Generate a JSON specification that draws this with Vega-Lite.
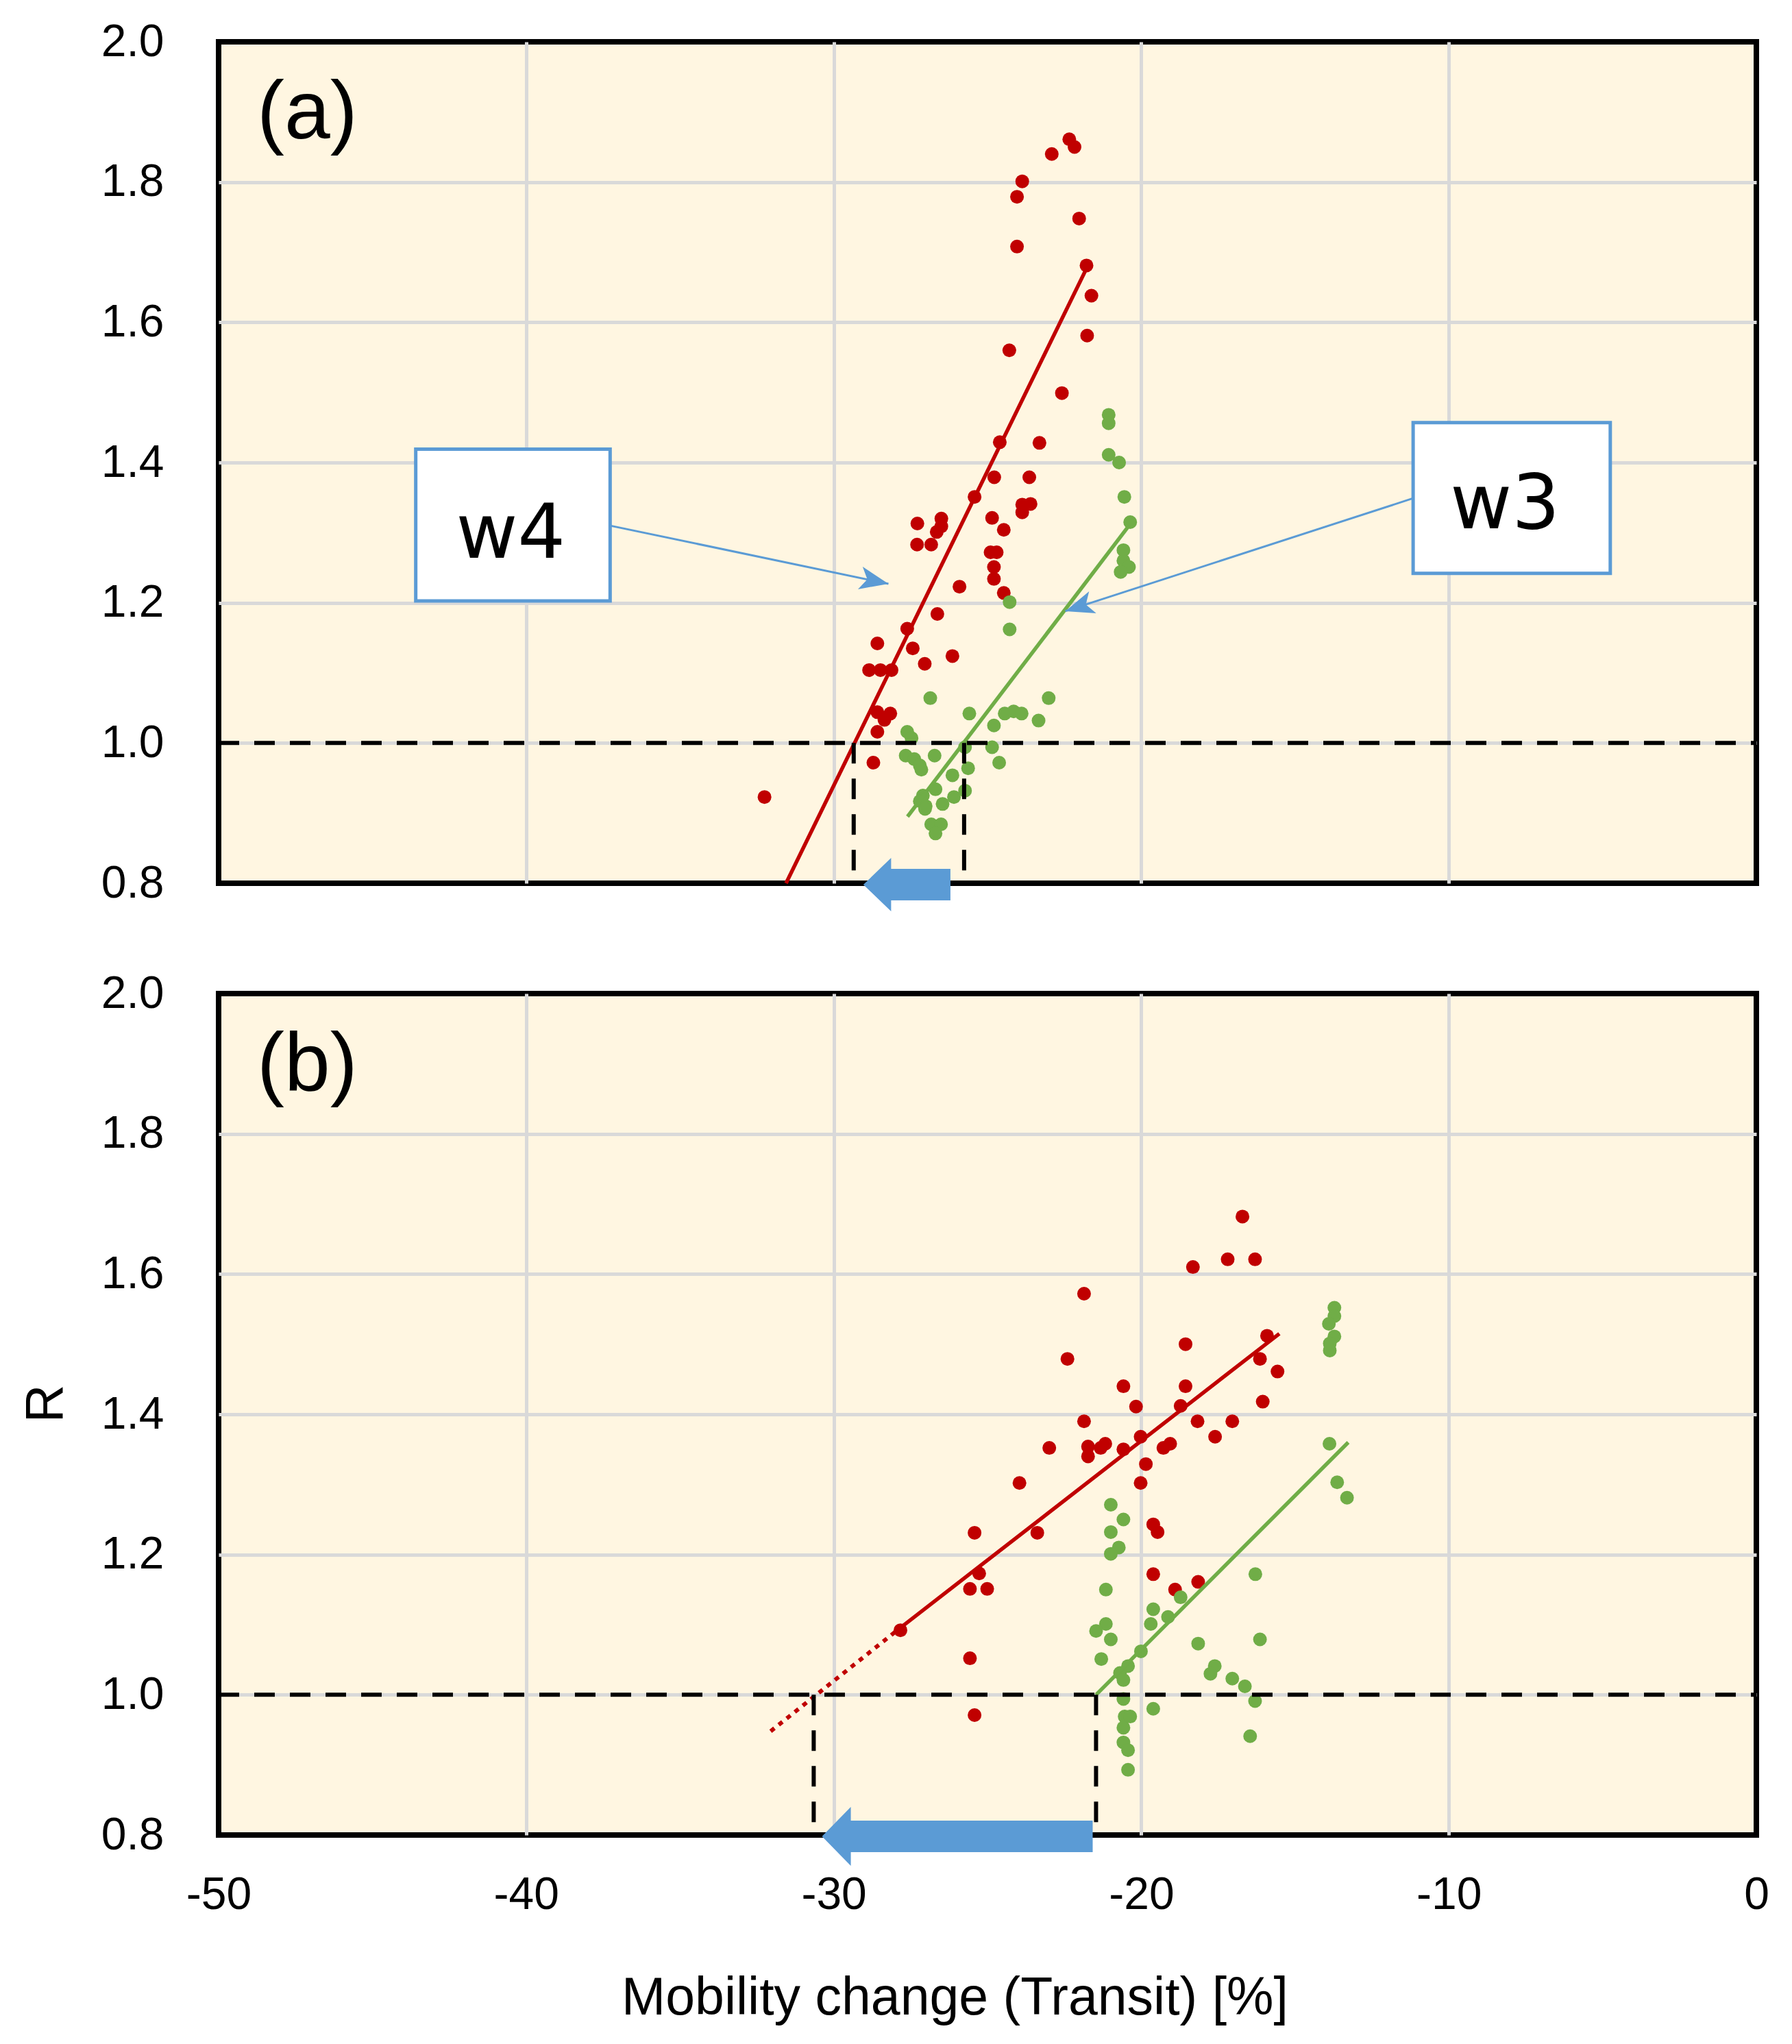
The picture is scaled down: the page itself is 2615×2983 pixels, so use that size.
{
  "$schema": "https://vega.github.io/schema/vega-lite/v6.json",
  "padding": {"left": 24, "top": 24, "right": 5, "bottom": 5},
  "background": "white",
  "config": {
    "view": {"fill": "#FFF6E1", "stroke": "#000000", "strokeWidth": 8},
    "axis": {
      "labelFont": "Liberation Sans", "labelFontSize": 66, "labelColor": "#000000",
      "titleFont": "Liberation Sans", "titleFontSize": 77, "titleFontWeight": "normal", "titleColor": "#000000",
      "gridColor": "#D9D9D9", "gridWidth": 5, "ticks": false, "tickSize": 0, "domain": false, "labelFlush": false
    }
  },
  "datasets": {
    "points": [
      {"panel":"a","series":"w4","x":-22.34,"y":1.861},{"panel":"a","series":"w4","x":-22.17,"y":1.85},{"panel":"a","series":"w4","x":-22.91,"y":1.84},{"panel":"a","series":"w4","x":-23.87,"y":1.801},{"panel":"a","series":"w4","x":-24.04,"y":1.779},{"panel":"a","series":"w4","x":-22.02,"y":1.748},{"panel":"a","series":"w4","x":-24.04,"y":1.708},{"panel":"a","series":"w4","x":-21.78,"y":1.681},{"panel":"a","series":"w4","x":-21.62,"y":1.638},{"panel":"a","series":"w4","x":-21.76,"y":1.581},{"panel":"a","series":"w4","x":-24.29,"y":1.56},{"panel":"a","series":"w4","x":-22.58,"y":1.499},{"panel":"a","series":"w4","x":-24.6,"y":1.429},{"panel":"a","series":"w4","x":-23.31,"y":1.428},{"panel":"a","series":"w4","x":-24.78,"y":1.379},{"panel":"a","series":"w4","x":-23.64,"y":1.379},{"panel":"a","series":"w4","x":-25.42,"y":1.351},{"panel":"a","series":"w4","x":-23.87,"y":1.34},{"panel":"a","series":"w4","x":-23.6,"y":1.341},{"panel":"a","series":"w4","x":-23.87,"y":1.329},{"panel":"a","series":"w4","x":-26.5,"y":1.32},{"panel":"a","series":"w4","x":-24.85,"y":1.321},{"panel":"a","series":"w4","x":-27.28,"y":1.313},{"panel":"a","series":"w4","x":-26.5,"y":1.309},{"panel":"a","series":"w4","x":-26.65,"y":1.301},{"panel":"a","series":"w4","x":-24.47,"y":1.304},{"panel":"a","series":"w4","x":-27.29,"y":1.283},{"panel":"a","series":"w4","x":-26.83,"y":1.283},{"panel":"a","series":"w4","x":-24.9,"y":1.272},{"panel":"a","series":"w4","x":-24.7,"y":1.272},{"panel":"a","series":"w4","x":-24.79,"y":1.251},{"panel":"a","series":"w4","x":-24.79,"y":1.234},{"panel":"a","series":"w4","x":-25.91,"y":1.223},{"panel":"a","series":"w4","x":-24.47,"y":1.214},{"panel":"a","series":"w4","x":-26.63,"y":1.184},{"panel":"a","series":"w4","x":-27.61,"y":1.163},{"panel":"a","series":"w4","x":-28.58,"y":1.142},{"panel":"a","series":"w4","x":-27.43,"y":1.135},{"panel":"a","series":"w4","x":-26.14,"y":1.124},{"panel":"a","series":"w4","x":-27.04,"y":1.113},{"panel":"a","series":"w4","x":-28.85,"y":1.104},{"panel":"a","series":"w4","x":-28.48,"y":1.104},{"panel":"a","series":"w4","x":-28.12,"y":1.104},{"panel":"a","series":"w4","x":-28.58,"y":1.044},{"panel":"a","series":"w4","x":-28.16,"y":1.042},{"panel":"a","series":"w4","x":-28.35,"y":1.033},{"panel":"a","series":"w4","x":-28.58,"y":1.016},{"panel":"a","series":"w4","x":-28.71,"y":0.972},{"panel":"a","series":"w4","x":-32.25,"y":0.923},
      {"panel":"a","series":"w3","x":-21.06,"y":1.468},{"panel":"a","series":"w3","x":-21.06,"y":1.456},{"panel":"a","series":"w3","x":-21.06,"y":1.411},{"panel":"a","series":"w3","x":-20.72,"y":1.4},{"panel":"a","series":"w3","x":-20.55,"y":1.351},{"panel":"a","series":"w3","x":-20.36,"y":1.315},{"panel":"a","series":"w3","x":-20.58,"y":1.275},{"panel":"a","series":"w3","x":-20.58,"y":1.26},{"panel":"a","series":"w3","x":-20.4,"y":1.251},{"panel":"a","series":"w3","x":-20.67,"y":1.244},{"panel":"a","series":"w3","x":-24.28,"y":1.201},{"panel":"a","series":"w3","x":-24.28,"y":1.162},{"panel":"a","series":"w3","x":-26.86,"y":1.064},{"panel":"a","series":"w3","x":-25.59,"y":1.042},{"panel":"a","series":"w3","x":-24.44,"y":1.042},{"panel":"a","series":"w3","x":-24.15,"y":1.045},{"panel":"a","series":"w3","x":-23.89,"y":1.042},{"panel":"a","series":"w3","x":-23.01,"y":1.064},{"panel":"a","series":"w3","x":-23.34,"y":1.032},{"panel":"a","series":"w3","x":-24.79,"y":1.025},{"panel":"a","series":"w3","x":-27.61,"y":1.016},{"panel":"a","series":"w3","x":-27.47,"y":1.007},{"panel":"a","series":"w3","x":-27.66,"y":0.982},{"panel":"a","series":"w3","x":-27.38,"y":0.977},{"panel":"a","series":"w3","x":-27.2,"y":0.968},{"panel":"a","series":"w3","x":-27.15,"y":0.962},{"panel":"a","series":"w3","x":-26.72,"y":0.982},{"panel":"a","series":"w3","x":-25.73,"y":0.994},{"panel":"a","series":"w3","x":-24.85,"y":0.994},{"panel":"a","series":"w3","x":-24.62,"y":0.972},{"panel":"a","series":"w3","x":-25.63,"y":0.964},{"panel":"a","series":"w3","x":-26.14,"y":0.954},{"panel":"a","series":"w3","x":-25.73,"y":0.932},{"panel":"a","series":"w3","x":-26.69,"y":0.934},{"panel":"a","series":"w3","x":-27.1,"y":0.925},{"panel":"a","series":"w3","x":-27.2,"y":0.917},{"panel":"a","series":"w3","x":-27.01,"y":0.91},{"panel":"a","series":"w3","x":-26.09,"y":0.923},{"panel":"a","series":"w3","x":-26.46,"y":0.913},{"panel":"a","series":"w3","x":-26.83,"y":0.884},{"panel":"a","series":"w3","x":-26.51,"y":0.884},{"panel":"a","series":"w3","x":-26.69,"y":0.871},{"panel":"a","series":"w3","x":-27.03,"y":0.906},
      {"panel":"b","series":"w4","x":-16.71,"y":1.682},{"panel":"b","series":"w4","x":-18.32,"y":1.61},{"panel":"b","series":"w4","x":-17.19,"y":1.621},{"panel":"b","series":"w4","x":-16.3,"y":1.621},{"panel":"b","series":"w4","x":-21.86,"y":1.572},{"panel":"b","series":"w4","x":-18.56,"y":1.5},{"panel":"b","series":"w4","x":-15.91,"y":1.512},{"panel":"b","series":"w4","x":-16.14,"y":1.479},{"panel":"b","series":"w4","x":-15.57,"y":1.461},{"panel":"b","series":"w4","x":-22.4,"y":1.479},{"panel":"b","series":"w4","x":-20.58,"y":1.44},{"panel":"b","series":"w4","x":-18.56,"y":1.44},{"panel":"b","series":"w4","x":-16.05,"y":1.418},{"panel":"b","series":"w4","x":-20.17,"y":1.411},{"panel":"b","series":"w4","x":-18.72,"y":1.412},{"panel":"b","series":"w4","x":-21.86,"y":1.39},{"panel":"b","series":"w4","x":-18.17,"y":1.39},{"panel":"b","series":"w4","x":-17.04,"y":1.39},{"panel":"b","series":"w4","x":-17.6,"y":1.368},{"panel":"b","series":"w4","x":-20.02,"y":1.368},{"panel":"b","series":"w4","x":-21.73,"y":1.354},{"panel":"b","series":"w4","x":-21.73,"y":1.34},{"panel":"b","series":"w4","x":-21.32,"y":1.352},{"panel":"b","series":"w4","x":-21.17,"y":1.358},{"panel":"b","series":"w4","x":-20.58,"y":1.35},{"panel":"b","series":"w4","x":-19.28,"y":1.352},{"panel":"b","series":"w4","x":-19.06,"y":1.358},{"panel":"b","series":"w4","x":-19.85,"y":1.329},{"panel":"b","series":"w4","x":-20.02,"y":1.302},{"panel":"b","series":"w4","x":-19.61,"y":1.243},{"panel":"b","series":"w4","x":-19.47,"y":1.232},{"panel":"b","series":"w4","x":-19.61,"y":1.172},{"panel":"b","series":"w4","x":-18.9,"y":1.15},{"panel":"b","series":"w4","x":-18.15,"y":1.161},{"panel":"b","series":"w4","x":-22.99,"y":1.352},{"panel":"b","series":"w4","x":-23.96,"y":1.302},{"panel":"b","series":"w4","x":-25.42,"y":1.231},{"panel":"b","series":"w4","x":-23.38,"y":1.231},{"panel":"b","series":"w4","x":-25.27,"y":1.173},{"panel":"b","series":"w4","x":-25.57,"y":1.151},{"panel":"b","series":"w4","x":-25.01,"y":1.151},{"panel":"b","series":"w4","x":-27.83,"y":1.092},{"panel":"b","series":"w4","x":-25.57,"y":1.052},{"panel":"b","series":"w4","x":-25.42,"y":0.971},
      {"panel":"b","series":"w3","x":-13.72,"y":1.552},{"panel":"b","series":"w3","x":-13.72,"y":1.54},{"panel":"b","series":"w3","x":-13.9,"y":1.529},{"panel":"b","series":"w3","x":-13.72,"y":1.511},{"panel":"b","series":"w3","x":-13.87,"y":1.501},{"panel":"b","series":"w3","x":-13.87,"y":1.491},{"panel":"b","series":"w3","x":-13.88,"y":1.358},{"panel":"b","series":"w3","x":-13.63,"y":1.303},{"panel":"b","series":"w3","x":-13.31,"y":1.281},{"panel":"b","series":"w3","x":-20.99,"y":1.271},{"panel":"b","series":"w3","x":-20.58,"y":1.25},{"panel":"b","series":"w3","x":-20.99,"y":1.232},{"panel":"b","series":"w3","x":-20.73,"y":1.21},{"panel":"b","series":"w3","x":-20.99,"y":1.201},{"panel":"b","series":"w3","x":-16.29,"y":1.172},{"panel":"b","series":"w3","x":-21.15,"y":1.15},{"panel":"b","series":"w3","x":-18.72,"y":1.139},{"panel":"b","series":"w3","x":-19.61,"y":1.122},{"panel":"b","series":"w3","x":-19.13,"y":1.111},{"panel":"b","series":"w3","x":-19.69,"y":1.101},{"panel":"b","series":"w3","x":-21.15,"y":1.101},{"panel":"b","series":"w3","x":-21.47,"y":1.091},{"panel":"b","series":"w3","x":-20.99,"y":1.079},{"panel":"b","series":"w3","x":-16.14,"y":1.079},{"panel":"b","series":"w3","x":-18.15,"y":1.073},{"panel":"b","series":"w3","x":-20.01,"y":1.062},{"panel":"b","series":"w3","x":-21.3,"y":1.051},{"panel":"b","series":"w3","x":-17.61,"y":1.041},{"panel":"b","series":"w3","x":-17.75,"y":1.03},{"panel":"b","series":"w3","x":-20.43,"y":1.041},{"panel":"b","series":"w3","x":-20.69,"y":1.031},{"panel":"b","series":"w3","x":-20.58,"y":1.021},{"panel":"b","series":"w3","x":-17.04,"y":1.023},{"panel":"b","series":"w3","x":-16.63,"y":1.012},{"panel":"b","series":"w3","x":-16.3,"y":0.991},{"panel":"b","series":"w3","x":-20.58,"y":0.994},{"panel":"b","series":"w3","x":-19.61,"y":0.98},{"panel":"b","series":"w3","x":-20.54,"y":0.969},{"panel":"b","series":"w3","x":-20.36,"y":0.969},{"panel":"b","series":"w3","x":-20.58,"y":0.953},{"panel":"b","series":"w3","x":-20.58,"y":0.932},{"panel":"b","series":"w3","x":-20.43,"y":0.921},{"panel":"b","series":"w3","x":-20.43,"y":0.893},{"panel":"b","series":"w3","x":-16.46,"y":0.941}
    ],
    "fits": [
      {"panel":"a","series":"w4","style":"solid","x":-31.55,"y":0.8,"x2":-21.8,"y2":1.675},
      {"panel":"a","series":"w3","style":"solid","x":-27.6,"y":0.895,"x2":-20.4,"y2":1.31},
      {"panel":"b","series":"w4","style":"solid","x":-27.79,"y":1.097,"x2":-15.51,"y2":1.515},
      {"panel":"b","series":"w4","style":"dotted","x":-32.05,"y":0.948,"x2":-27.79,"y2":1.097},
      {"panel":"b","series":"w3","style":"solid","x":-21.47,"y":1.0,"x2":-13.27,"y2":1.36}
    ],
    "refs": [
      {"panel":"a","x":-50,"y":1,"x2":0,"y2":1},
      {"panel":"a","x":-29.35,"y":1,"x2":-29.35,"y2":0.8},
      {"panel":"a","x":-25.76,"y":1,"x2":-25.76,"y2":0.8},
      {"panel":"b","x":-50,"y":1,"x2":0,"y2":1},
      {"panel":"b","x":-30.65,"y":1,"x2":-30.65,"y2":0.8},
      {"panel":"b","x":-21.47,"y":1,"x2":-21.47,"y2":0.8}
    ],
    "boxes": [
      {"label":"w4","x":-43.59,"x2":-37.27,"y":1.2025,"y2":1.419,"tx":-40.5,"ty":1.264},
      {"label":"w3","x":-11.16,"x2":-4.75,"y":1.242,"y2":1.457,"tx":-8.17,"ty":1.306}
    ],
    "pointers": [
      {"label":"w4","x":-37.27,"y":1.31,"x2":-28.22,"y2":1.227},
      {"label":"w3","x":-11.16,"y":1.349,"x2":-22.47,"y2":1.188}
    ],
    "shifts": [
      {"panel":"a","x":-27.62,"y":0.798},
      {"panel":"b","x":-25.98,"y":0.798}
    ],
    "panels": [
      {"panel":"a","label":"(a)","x":-48.75,"y":1.862},
      {"panel":"b","label":"(b)","x":-48.75,"y":1.862}
    ]
  },
  "spacing": 161,
  "bounds": "flush",
  "vconcat": [
    {
      "width": 2244,
      "height": 1228,
      "layer": [
        {
          "data": {"name": "points"},
          "transform": [{"filter": "datum.panel === 'a'"}],
          "mark": {"type": "circle", "size": 400, "opacity": 1},
          "encoding": {
            "x": {"field": "x", "type": "quantitative", "scale": {"domain": [-50, 0], "nice": false, "zero": false},
                  "axis": {"values": [-50, -40, -30, -20, -10, 0], "labels": false, "title": null, "grid": true,
                           "gridOpacity": {"condition": {"test": "datum.value <= -50 || datum.value >= 0", "value": 0}, "value": 1}}},
            "y": {"field": "y", "type": "quantitative", "scale": {"domain": [0.8, 2.0], "nice": false, "zero": false},
                  "axis": {"values": [0.8, 1, 1.2, 1.4, 1.6, 1.8, 2], "format": ".1f", "labelPadding": 80, "title": null, "grid": true,
                           "gridOpacity": {"condition": {"test": "datum.value < 0.85 || datum.value > 1.95", "value": 0}, "value": 1}}},
            "color": {"field": "series", "type": "nominal", "scale": {"domain": ["w4", "w3"], "range": ["#C00000", "#70AD47"]}, "legend": null}
          }
        },
        {
          "data": {"name": "fits"},
          "transform": [{"filter": "datum.panel === 'a' && datum.style === 'solid'"}],
          "mark": {"type": "rule", "strokeWidth": 5.5},
          "encoding": {
            "x": {"field": "x", "type": "quantitative"}, "y": {"field": "y", "type": "quantitative"},
            "x2": {"field": "x2"}, "y2": {"field": "y2"},
            "color": {"field": "series", "type": "nominal", "legend": null}
          }
        },
        {
          "data": {"name": "refs"},
          "transform": [{"filter": "datum.panel === 'a'"}],
          "mark": {"type": "rule", "color": "#000000", "strokeWidth": 6, "strokeDash": [30, 22]},
          "encoding": {
            "x": {"field": "x", "type": "quantitative"}, "y": {"field": "y", "type": "quantitative"},
            "x2": {"field": "x2"}, "y2": {"field": "y2"}
          }
        },
        {
          "data": {"name": "pointers"},
          "mark": {"type": "rule", "color": "#5B9BD5", "strokeWidth": 3},
          "encoding": {
            "x": {"field": "x", "type": "quantitative"}, "y": {"field": "y", "type": "quantitative"},
            "x2": {"field": "x2"}, "y2": {"field": "y2"}
          }
        },
        {
          "data": {"name": "pointers"},
          "transform": [{"filter": "datum.label === 'w4'"}],
          "mark": {"type": "point", "shape": "M0,0L-2,-0.8L-1.5,0L-2,0.8Z", "size": 1764, "angle": 11.8, "filled": true, "color": "#5B9BD5", "opacity": 1, "strokeWidth": 0},
          "encoding": {"x": {"field": "x2", "type": "quantitative"}, "y": {"field": "y2", "type": "quantitative"}}
        },
        {
          "data": {"name": "pointers"},
          "transform": [{"filter": "datum.label === 'w3'"}],
          "mark": {"type": "point", "shape": "M0,0L-2,-0.8L-1.5,0L-2,0.8Z", "size": 1764, "angle": 162, "filled": true, "color": "#5B9BD5", "opacity": 1, "strokeWidth": 0},
          "encoding": {"x": {"field": "x2", "type": "quantitative"}, "y": {"field": "y2", "type": "quantitative"}}
        },
        {
          "data": {"name": "boxes"},
          "mark": {"type": "rect", "fill": "#FFFFFF", "stroke": "#5B9BD5", "strokeWidth": 5},
          "encoding": {
            "x": {"field": "x", "type": "quantitative"}, "x2": {"field": "x2"},
            "y": {"field": "y", "type": "quantitative"}, "y2": {"field": "y2"}
          }
        },
        {
          "data": {"name": "boxes"},
          "mark": {"type": "text", "font": "DejaVu Sans", "fontSize": 110, "color": "#000000", "align": "center", "baseline": "alphabetic"},
          "encoding": {
            "x": {"field": "tx", "type": "quantitative"}, "y": {"field": "ty", "type": "quantitative"},
            "text": {"field": "label"}
          }
        },
        {
          "data": {"name": "shifts"},
          "transform": [{"filter": "datum.panel === 'a'"}],
          "mark": {"type": "point", "shape": "M-1,0L-0.363,-0.615L-0.363,-0.362L1,-0.362L1,0.362L-0.363,0.362L-0.363,0.615Z", "size": 16129, "filled": true, "color": "#5B9BD5", "opacity": 1, "strokeWidth": 0},
          "encoding": {"x": {"field": "x", "type": "quantitative"}, "y": {"field": "y", "type": "quantitative"}}
        },
        {
          "data": {"name": "panels"},
          "transform": [{"filter": "datum.panel === 'a'"}],
          "mark": {"type": "text", "font": "Liberation Sans", "fontSize": 120, "color": "#000000", "align": "left", "baseline": "alphabetic"},
          "encoding": {
            "x": {"field": "x", "type": "quantitative"}, "y": {"field": "y", "type": "quantitative"},
            "text": {"field": "label"}
          }
        }
      ]
    },
    {
      "width": 2244,
      "height": 1228,
      "layer": [
        {
          "data": {"name": "points"},
          "transform": [{"filter": "datum.panel === 'b'"}],
          "mark": {"type": "circle", "size": 400, "opacity": 1},
          "encoding": {
            "x": {"field": "x", "type": "quantitative", "scale": {"domain": [-50, 0], "nice": false, "zero": false},
                  "axis": {"values": [-50, -40, -30, -20, -10, 0], "labelExpr": "datum.value === 0 ? '0' : '-' + abs(datum.value)",
                           "labelPadding": 55, "title": "Mobility change (Transit) [%]", "titleX": 1074, "titleY": 200,
                           "titleAlign": "center", "titleBaseline": "top", "grid": true,
                           "gridOpacity": {"condition": {"test": "datum.value <= -50 || datum.value >= 0", "value": 0}, "value": 1}}},
            "y": {"field": "y", "type": "quantitative", "scale": {"domain": [0.8, 2.0], "nice": false, "zero": false},
                  "axis": {"values": [0.8, 1, 1.2, 1.4, 1.6, 1.8, 2], "format": ".1f", "labelPadding": 80,
                           "title": "R", "titleX": -213, "titleY": 598, "titleAngle": -90, "titleAlign": "center", "titleBaseline": "bottom",
                           "grid": true,
                           "gridOpacity": {"condition": {"test": "datum.value < 0.85 || datum.value > 1.95", "value": 0}, "value": 1}}},
            "color": {"field": "series", "type": "nominal", "scale": {"domain": ["w4", "w3"], "range": ["#C00000", "#70AD47"]}, "legend": null}
          }
        },
        {
          "data": {"name": "fits"},
          "transform": [{"filter": "datum.panel === 'b' && datum.style === 'solid'"}],
          "mark": {"type": "rule", "strokeWidth": 5.5},
          "encoding": {
            "x": {"field": "x", "type": "quantitative"}, "y": {"field": "y", "type": "quantitative"},
            "x2": {"field": "x2"}, "y2": {"field": "y2"},
            "color": {"field": "series", "type": "nominal", "legend": null}
          }
        },
        {
          "data": {"name": "fits"},
          "transform": [{"filter": "datum.panel === 'b' && datum.style === 'dotted'"}],
          "mark": {"type": "rule", "strokeWidth": 6, "strokeDash": [7, 8]},
          "encoding": {
            "x": {"field": "x", "type": "quantitative"}, "y": {"field": "y", "type": "quantitative"},
            "x2": {"field": "x2"}, "y2": {"field": "y2"},
            "color": {"field": "series", "type": "nominal", "legend": null}
          }
        },
        {
          "data": {"name": "refs"},
          "transform": [{"filter": "datum.panel === 'b'"}],
          "mark": {"type": "rule", "color": "#000000", "strokeWidth": 6, "strokeDash": [30, 22]},
          "encoding": {
            "x": {"field": "x", "type": "quantitative"}, "y": {"field": "y", "type": "quantitative"},
            "x2": {"field": "x2"}, "y2": {"field": "y2"}
          }
        },
        {
          "data": {"name": "shifts"},
          "transform": [{"filter": "datum.panel === 'b'"}],
          "mark": {"type": "point", "shape": "M-1,0L-0.787,-0.218L-0.787,-0.1165L1,-0.1165L1,0.1165L-0.787,0.1165L-0.787,0.218Z", "size": 156025, "filled": true, "color": "#5B9BD5", "opacity": 1, "strokeWidth": 0},
          "encoding": {"x": {"field": "x", "type": "quantitative"}, "y": {"field": "y", "type": "quantitative"}}
        },
        {
          "data": {"name": "panels"},
          "transform": [{"filter": "datum.panel === 'b'"}],
          "mark": {"type": "text", "font": "Liberation Sans", "fontSize": 120, "color": "#000000", "align": "left", "baseline": "alphabetic"},
          "encoding": {
            "x": {"field": "x", "type": "quantitative"}, "y": {"field": "y", "type": "quantitative"},
            "text": {"field": "label"}
          }
        }
      ]
    }
  ]
}
